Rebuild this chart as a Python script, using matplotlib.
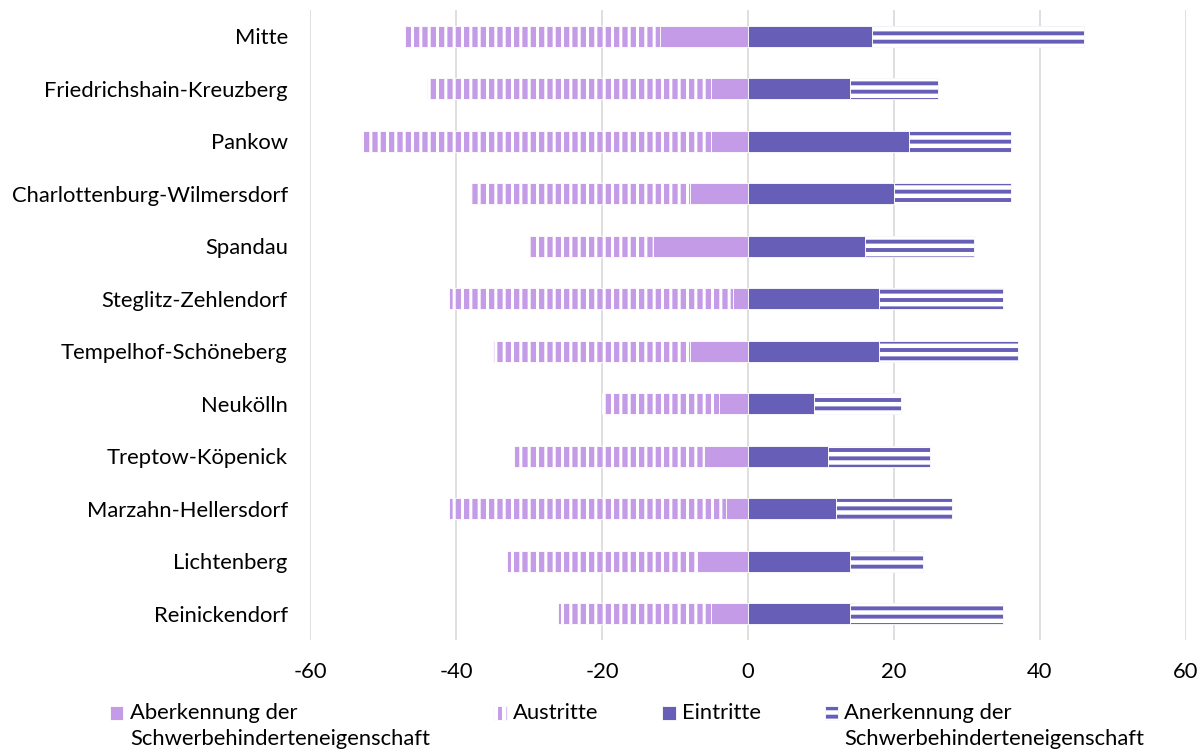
import numpy as np
import matplotlib.pyplot as plt

plt.rcParams['font.family'] = ['Lato', 'DejaVu Sans']
plt.rcParams['axes.unicode_minus'] = False

bezirke = ["Mitte", "Friedrichshain-Kreuzberg", "Pankow", "Charlottenburg-Wilmersdorf",
           "Spandau", "Steglitz-Zehlendorf", "Tempelhof-Schöneberg", "Neukölln",
           "Treptow-Köpenick", "Marzahn-Hellersdorf", "Lichtenberg", "Reinickendorf"]

# left side (shown negative)
aberkennung = [12, 5, 5, 8, 13, 2, 8, 4, 6, 3, 7, 5]
austritte = [35, 39, 48, 30, 17, 39, 27, 16, 26, 38, 26, 21]
# right side
eintritte = [17, 14, 22, 20, 16, 18, 18, 9, 11, 12, 14, 14]
anerkennung = [29, 12, 14, 16, 15, 17, 19, 12, 14, 16, 10, 21]

light = "#C49BE6"
dark = "#675EB7"
fs = 15.8

fig = plt.figure(figsize=(12.04, 7.53), dpi=100)
ax = fig.add_axes([0.2575, 0.150, 0.7275, 0.837])

y = np.arange(len(bezirke))
ab = -np.array(aberkennung)
au = -np.array(austritte)
ei = np.array(eintritte)
an = np.array(anerkennung)
h = 0.4


def hatch_lw(bars, lw):
    for b in bars:
        if hasattr(b, "set_hatch_linewidth"):
            b.set_hatch_linewidth(lw)


b1 = ax.barh(y, ab, height=h, color=light, edgecolor="white", linewidth=0.6,
             label="Aberkennung der\nSchwerbehinderteneigenschaft")
plt.rcParams['hatch.linewidth'] = 2.2
b2 = ax.barh(y, au, left=ab, height=h, color=light, edgecolor="white", linewidth=0.6,
             hatch="||", label="Austritte\n ")
hatch_lw(b2, 2.2)
b3 = ax.barh(y, ei, height=h, color=dark, edgecolor="white", linewidth=0.6,
             label="Eintritte\n ")
plt.rcParams['hatch.linewidth'] = 3.2
b4 = ax.barh(y, an, left=ei, height=h, color=dark, edgecolor="white", linewidth=0.6,
             hatch="--", label="Anerkennung der\nSchwerbehinderteneigenschaft")
hatch_lw(b4, 3.2)

ax.set_xlim(-60, 60)
ax.set_ylim(len(bezirke) - 0.5, -0.5)
ax.set_xticks(np.arange(-60, 61, 20))
ax.set_yticks(y)
ax.set_yticklabels(bezirke)
ax.grid(axis="x", color="#D9D9D9", linewidth=1.2)
ax.set_axisbelow(True)
for s in ax.spines.values():
    s.set_visible(False)
ax.tick_params(axis="both", length=0, labelsize=fs, colors="black")
ax.tick_params(axis="y", pad=16)
ax.tick_params(axis="x", pad=16)

leg = fig.legend(loc="upper center", bbox_to_anchor=(0.521, 0.078), ncol=4, frameon=False,
                 fontsize=fs, handlelength=0.6, handleheight=0.55, handletextpad=0.3,
                 columnspacing=2.9, borderaxespad=0)
for t in leg.get_texts():
    t.set_linespacing(1.35)

# move the legend keys up to the first text line
fig.canvas.draw()
r = fig.canvas.get_renderer()
tmp = fig.text(0, 0, "Austritte", fontsize=fs)
one = tmp.get_window_extent(r).height
tmp.remove()
for hd, t in zip(leg.legend_handles, leg.get_texts()):
    tb = t.get_window_extent(r)
    hb = hd.get_window_extent(r)
    target = tb.y1 - one / 2
    dy = (target - (hb.y0 + hb.y1) / 2) * 72 / fig.dpi
    hd.set_y(hd.get_y() + dy)

fig.savefig("out.png", dpi=100)
